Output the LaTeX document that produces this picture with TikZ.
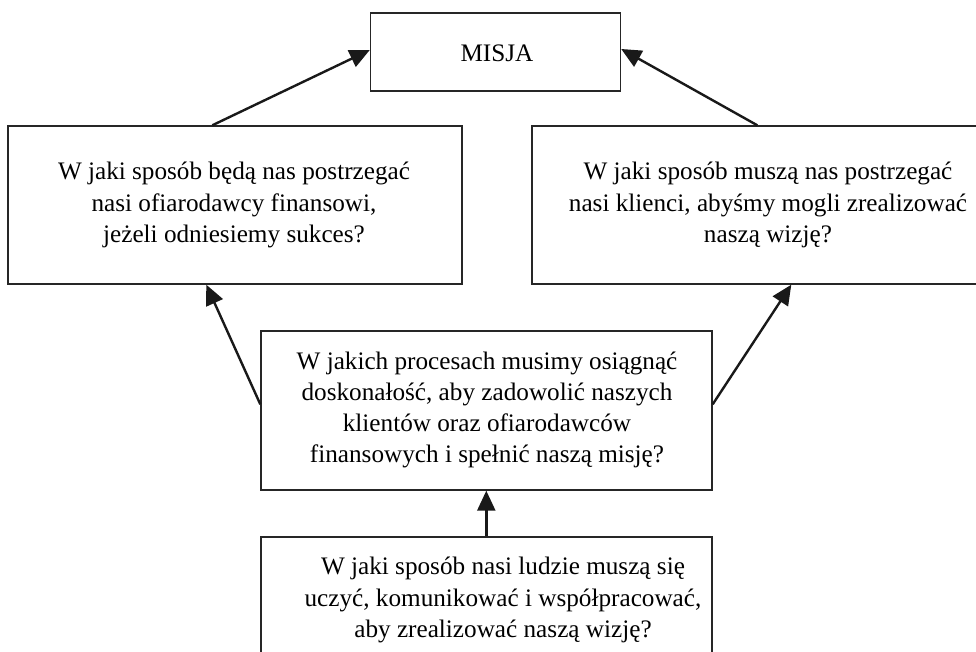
\documentclass[tikz,border=0pt]{standalone}
\usepackage{fontspec}
\setmainfont{Liberation Serif}
\usetikzlibrary{arrows.meta,calc}
\tikzset{
  box/.style={draw=black!85, line width=0.7pt, rectangle, inner sep=0pt},
  txt/.style={align=center, inner sep=0pt, font=\fontsize{12.6pt}{15.6pt}\selectfont},
  arr/.style={draw=black!90, line width=1.2pt, -{Triangle[length=10pt,width=9pt]}}
}
\begin{document}
\begin{tikzpicture}[x=0.5pt,y=-0.5pt]
\path[use as bounding box] (0,0) rectangle (976,652);
\clip (0,0) rectangle (976,652);
\node[box, minimum width=125pt, minimum height=39pt] (misja) at (495.5,52) {};
\node[txt] (misjat) at (497,53) {MISJA};
\node[box, minimum width=227pt, minimum height=79pt] (lb) at (235,205) {};
\node[txt] (lbt) at (234,205) {W jaki sposób będą nas postrzegać\\nasi ofiarodawcy finansowi,\\jeżeli odniesiemy sukces?};
\node[box, minimum width=236pt, minimum height=79pt] (rb) at (768,205) {};
\node[txt] (rbt) at (768,205) {W jaki sposób muszą nas postrzegać\\nasi klienci, abyśmy mogli zrealizować\\naszą wizję?};
\node[box, minimum width=225.5pt, minimum height=79.5pt] (mid) at (486.5,410.5) {};
\node[txt] (midt) at (487,410) {W jakich procesach musimy osiągnąć\\doskonałość, aby zadowolić naszych\\klientów oraz ofiarodawców\\finansowych i spełnić naszą misję?};
\node[box, minimum width=225.5pt, minimum height=63pt] (bot) at (486.5,600) {};
\node[txt] (bott) at (503,600) {W jaki sposób nasi ludzie muszą się\\uczyć, komunikować i współpracować,\\aby zrealizować naszą wizję?};
\draw[arr] ($(lb.north west)+(205,0)$) -- ($(misja.west)+(0,-2)$);
\draw[arr] ($(rb.north west)+(226,0)$) -- ($(misja.east)+(0,-3)$);
\draw[arr] ($(mid.north west)+(0,74)$) -- ($(lb.south west)+(199,0)$);
\draw[arr] ($(mid.north east)+(0,74)$) -- ($(rb.south west)+(260,0)$);
\draw[arr] ($(bot.north west)+(226,0)$) -- ($(mid.south west)+(226,0)$);
\end{tikzpicture}
\end{document}
